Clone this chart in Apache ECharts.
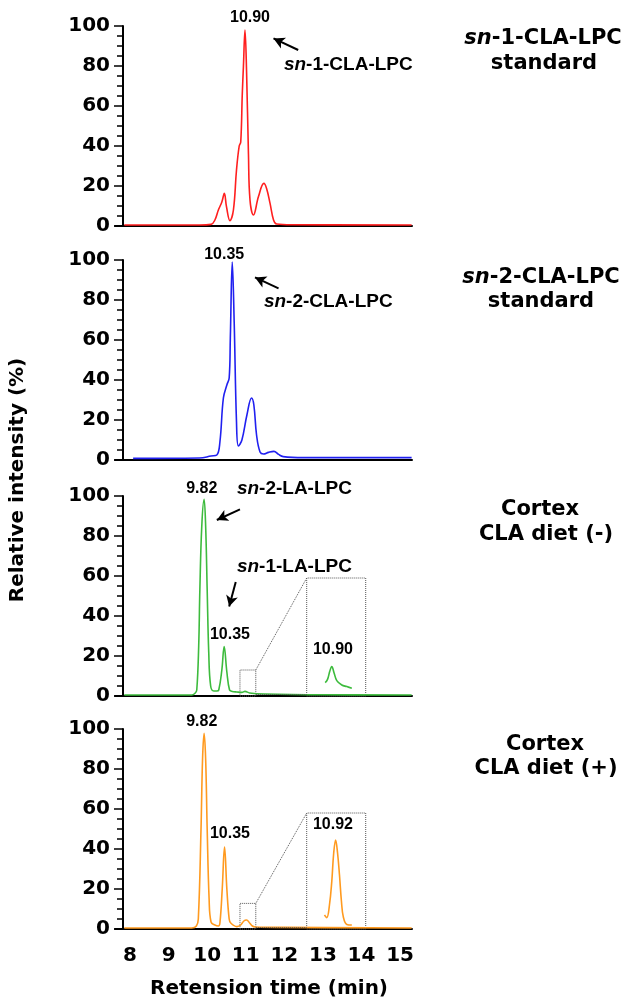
<!DOCTYPE html>
<html>
<head>
<meta charset="utf-8">
<style>
html, body { margin: 0; padding: 0; background: #fff; }
#chart { width: 629px; height: 1004px; }
</style>
<script src="https://cdn.jsdelivr.net/npm/echarts@6.0.0/dist/echarts.min.js"></script>
</head>
<body>
<div id="chart"></div>
<script>
// retention time (min) and relative intensity (%)
var rtSn1 = [7.85, 9.8, 10.1, 10.2, 10.29, 10.38, 10.445, 10.5, 10.59, 10.68, 10.76, 10.83, 10.87, 10.91, 10.94, 10.98, 11.02, 11.07, 11.11, 11.2, 11.33, 11.47, 11.54, 11.63, 11.72, 11.8, 12.2, 15.3];
var riSn1 = [0.5, 0.5, 0.8, 3, 8, 12, 16.3, 9.7, 2.7, 8, 28, 40, 42, 66, 80, 98, 78, 36, 13, 5.5, 14.7, 21.3, 18.8, 11.3, 3, 1, 0.6, 0.5];

var rtSn2 = [8.08, 9.8, 10.1, 10.25, 10.33, 10.42, 10.51, 10.57, 10.6, 10.65, 10.7, 10.76, 10.81, 10.9, 11.03, 11.15, 11.21, 11.28, 11.37, 11.46, 11.59, 11.73, 11.85, 11.97, 12.5, 15.3];
var riSn2 = [0.8, 1, 2, 2.5, 9, 31, 37.5, 41, 61, 99, 69, 19, 7, 10, 22.5, 31, 27.5, 12.5, 4, 3, 3.8, 4.3, 2.8, 1.7, 1.2, 1.2];

var rtCtrl = [7.85, 9.6, 9.69, 9.73, 9.78, 9.81, 9.86, 9.92, 9.96, 10.0, 10.04, 10.09, 10.17, 10.25, 10.3, 10.38, 10.44, 10.51, 10.58, 10.65, 10.77, 10.9, 10.98, 11.1, 11.5, 13, 15.3];
var riCtrl = [0.5, 0.5, 1.5, 3, 25, 53, 85, 98.3, 85, 53, 22, 5, 2.5, 2.5, 3, 13, 24.7, 12, 3, 2.3, 2, 1.8, 2.3, 1.5, 1, 0.6, 0.5];
// magnified 10.90 peak drawn inside the dotted frame
var rtCtrlZoom = [13.06, 13.12, 13.18, 13.23, 13.29, 13.36, 13.49, 13.62, 13.75];
var riCtrlZoom = [6.7, 8.3, 12.5, 14.7, 11.5, 7.7, 5.5, 4.7, 3.9];

var rtCla = [7.85, 9.6, 9.72, 9.77, 9.84, 9.88, 9.92, 9.96, 10.0, 10.05, 10.1, 10.2, 10.29, 10.33, 10.39, 10.45, 10.51, 10.57, 10.61, 10.77, 10.87, 10.95, 11.02, 11.1, 11.17, 11.24, 12, 15.3];
var riCla = [0.5, 0.5, 1.5, 5, 50, 85, 97.8, 85, 50, 15, 3.5, 2, 1.5, 3, 20, 41, 20, 5, 3, 1.2, 2, 4, 4.5, 3, 1.5, 1, 0.8, 0.5];
var rtClaZoom = [13.04, 13.1, 13.17, 13.23, 13.28, 13.33, 13.38, 13.43, 13.48, 13.53, 13.62, 13.75];
var riClaZoom = [7, 5.7, 12, 23.7, 38, 44.5, 38, 27, 14, 6, 2.3, 2];

var rtTicks = [8, 9, 10, 11, 12, 13, 14, 15];

var traceColors = ['#ff1f1f', '#2020f0', '#3dbb3d', '#ff9a1f'];
var panelTop = [26, 260, 496, 729];

function zip(xs, ys) {
  return xs.map(function (x, i) { return [x, ys[i]]; });
}

var bold = 'DejaVu Sans';
var chart = echarts.init(document.getElementById('chart'));

var option = {
  animation: false,
  backgroundColor: '#fff',
  grid: [],
  xAxis: [],
  yAxis: [],
  series: []
};

for (var i = 0; i < 4; i++) {
  option.grid.push({ left: 115, width: 297, top: panelTop[i], height: 200 });
  option.xAxis.push({
    type: 'value',
    gridIndex: i,
    min: 7.61,
    max: 15.31,
    axisLine: { lineStyle: { color: '#000', width: 2 } },
    axisTick: { show: false },
    splitLine: { show: false },
    axisLabel: i === 3 ? {
      customValues: rtTicks,
      color: '#000',
      fontSize: 20,
      fontWeight: 'bold',
      fontFamily: bold,
      margin: 17
    } : { show: false }
  });
  option.yAxis.push({
    type: 'value',
    gridIndex: i,
    min: 0,
    max: 100,
    interval: 20,
    offset: -8,
    axisLine: { show: true, lineStyle: { color: '#000', width: 2 } },
    axisTick: { show: true, length: 9, lineStyle: { color: '#000', width: 1.5 } },
    minorTick: { show: true, splitNumber: 4, length: 6, lineStyle: { color: '#000', width: 1.5 } },
    splitLine: { show: false },
    axisLabel: { color: '#000', fontSize: 20, fontWeight: 'bold', fontFamily: bold, margin: 13 }
  });
}

function trace(idx, data, extra) {
  var s = {
    type: 'line',
    xAxisIndex: idx,
    yAxisIndex: idx,
    data: data,
    symbol: 'none',
    smooth: 0.4,
    lineStyle: { color: traceColors[idx], width: 1.6 },
    itemStyle: { color: traceColors[idx] },
    silent: true
  };
  for (var k in extra) s[k] = extra[k];
  return s;
}

function arrows(list) {
  return {
    silent: true,
    symbol: ['none', 'arrow'],
    symbolSize: [9, 11],
    label: { show: false },
    lineStyle: { color: '#000', width: 2, type: 'solid' },
    data: list.map(function (a) {
      return [{ coord: [a[0], a[1]] }, { coord: [a[2], a[3]] }];
    })
  };
}

// dotted window around the small peak and the frame holding its magnified copy
var zoomWindow = [10.85, 11.26];
var zoomFrame = [12.58, 14.11];

function frames(winTop, frameTop) {
  return {
    markArea: {
      silent: true,
      itemStyle: { color: 'rgba(0,0,0,0)', borderColor: '#555', borderWidth: 1, borderType: 'dotted' },
      label: { show: false },
      data: [
        [{ coord: [zoomWindow[0], 0] }, { coord: [zoomWindow[1], winTop] }],
        [{ coord: [zoomFrame[0], 0] }, { coord: [zoomFrame[1], frameTop] }]
      ]
    },
    markLine: {
      silent: true,
      symbol: ['none', 'none'],
      label: { show: false },
      lineStyle: { color: '#555', width: 1, type: 'dotted' },
      data: [
        [{ coord: [zoomWindow[1], winTop] }, { coord: [zoomFrame[0], frameTop] }],
        [{ coord: [zoomWindow[1], 1] }, { coord: [zoomFrame[0], 1] }]
      ]
    }
  };
}

option.series.push(trace(0, zip(rtSn1, riSn1), { markLine: arrows([[12.36, 88, 11.72, 93.8]]) }));
option.series.push(trace(1, zip(rtSn2, riSn2), { markLine: arrows([[11.85, 85.8, 11.24, 91.3]]) }));
option.series.push(trace(2, zip(rtCtrl, riCtrl), { markLine: arrows([[10.85, 93.3, 10.25, 88], [10.74, 57, 10.57, 44.7]]) }));
option.series.push(trace(2, zip(rtCtrlZoom, riCtrlZoom), frames(13, 59)));
option.series.push(trace(3, zip(rtCla, riCla), {}));
option.series.push(trace(3, zip(rtClaZoom, riClaZoom), frames(12.8, 58)));

chart.setOption(option);

// peak labels and compound names, placed in data units of each panel
var peakNotes = [
  [0, 11.11, 104, '10.90'],
  [1, 10.44, 102.5, '10.35'],
  [2, 9.86, 103.8, '9.82'],
  [2, 10.59, 30.8, '10.35'],
  [2, 13.26, 23, '10.90'],
  [3, 9.86, 103.7, '9.82'],
  [3, 10.59, 47.8, '10.35'],
  [3, 13.26, 52, '10.92']
];
var nameNotes = [
  [0, 11.99, 80.5, '-1-CLA-LPC'],
  [1, 11.47, 79.2, '-2-CLA-LPC'],
  [2, 10.77, 103.8, '-2-LA-LPC'],
  [2, 10.77, 64.7, '-1-LA-LPC']
];

function snText(rest, size, family) {
  return {
    text: '{i|sn}{b|' + rest + '}',
    rich: {
      i: { fontStyle: 'italic', fontWeight: 'bold', fontSize: size, fontFamily: family, fill: '#000', color: '#000' },
      b: { fontWeight: 'bold', fontSize: size, fontFamily: family, fill: '#000', color: '#000' }
    }
  };
}

var graphics = [];
peakNotes.forEach(function (n) {
  var p = chart.convertToPixel({ gridIndex: n[0] }, [n[1], n[2]]);
  graphics.push({
    type: 'text', x: p[0], y: p[1], silent: true,
    style: {
      text: n[3], fill: '#000', fontSize: 16, fontWeight: 'bold', fontFamily: 'Liberation Sans',
      align: 'center', verticalAlign: 'middle', textAlign: 'center', textVerticalAlign: 'middle'
    }
  });
});
nameNotes.forEach(function (n) {
  var p = chart.convertToPixel({ gridIndex: n[0] }, [n[1], n[2]]);
  var st = snText(n[3], 19, 'Liberation Sans');
  st.align = 'left'; st.verticalAlign = 'middle';
  st.textAlign = 'left'; st.textVerticalAlign = 'middle';
  graphics.push({ type: 'text', x: p[0], y: p[1], silent: true, style: st });
});

function plain(text, x, y, rot, size) {
  return {
    type: 'text', x: x, y: y, rotation: rot || 0, silent: true,
    style: {
      text: text, fill: '#000', fontSize: size || 20, fontWeight: 'bold', fontFamily: bold,
      align: 'center', verticalAlign: 'middle', textAlign: 'center', textVerticalAlign: 'middle'
    }
  };
}
function snTitle(rest, x, y) {
  var st = snText(rest, 21, bold);
  st.align = 'center'; st.verticalAlign = 'middle';
  st.textAlign = 'center'; st.textVerticalAlign = 'middle';
  return { type: 'text', x: x, y: y, silent: true, style: st };
}

graphics.push(snTitle('-1-CLA-LPC', 543, 39));
graphics.push(plain('standard', 544, 64, 0, 21));
graphics.push(snTitle('-2-CLA-LPC', 541, 278));
graphics.push(plain('standard', 541, 302, 0, 21));
graphics.push(plain('Cortex', 540, 510, 0, 21));
graphics.push(plain('CLA diet (-)', 546, 535, 0, 21));
graphics.push(plain('Cortex', 545, 745, 0, 21));
graphics.push(plain('CLA diet (+)', 546, 769, 0, 21));
graphics.push(plain('Retension time (min)', 269, 989));
graphics.push(plain('Relative intensity (%)', 18, 480, Math.PI / 2));

chart.setOption({ graphic: graphics });
</script>
</body>
</html>
